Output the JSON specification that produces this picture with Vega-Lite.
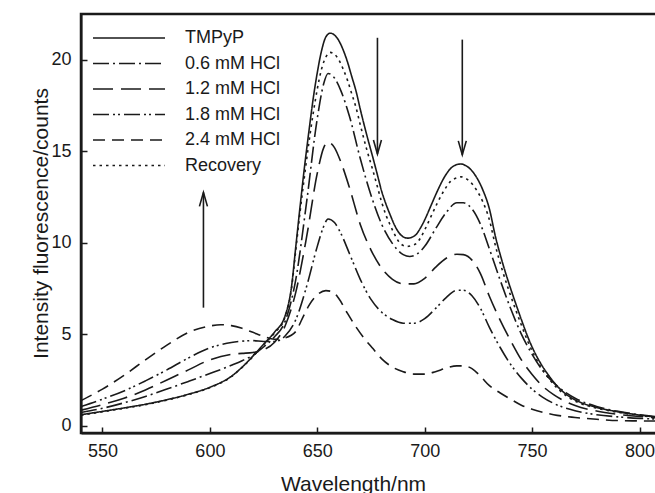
{
  "$schema": "https://vega.github.io/schema/vega-lite/v6.json",
  "width": 580,
  "height": 419,
  "autosize": {"type": "none"},
  "padding": {"left": 81, "top": 14, "right": 0, "bottom": 60},
  "background": "white",
  "config": {
    "view": {"stroke": "#1a1a1a", "strokeWidth": 2.5},
    "font": "Liberation Sans"
  },
  "datasets": {
    "spectra": [
      {"series":"TMPyP","nm":540,"val":0.6},{"series":"TMPyP","nm":550,"val":0.78},{"series":"TMPyP","nm":560,"val":0.97},{"series":"TMPyP","nm":570,"val":1.17},{"series":"TMPyP","nm":580,"val":1.42},{"series":"TMPyP","nm":590,"val":1.72},{"series":"TMPyP","nm":600,"val":2.1},{"series":"TMPyP","nm":610,"val":2.7},{"series":"TMPyP","nm":615,"val":3.2},{"series":"TMPyP","nm":620,"val":3.8},{"series":"TMPyP","nm":625,"val":4.45},{"series":"TMPyP","nm":630,"val":5.1},{"series":"TMPyP","nm":635,"val":6.0},{"series":"TMPyP","nm":638,"val":7.6},{"series":"TMPyP","nm":640,"val":9.8},{"series":"TMPyP","nm":642,"val":12.0},{"series":"TMPyP","nm":644,"val":14.1},{"series":"TMPyP","nm":646,"val":16.0},{"series":"TMPyP","nm":648,"val":17.8},{"series":"TMPyP","nm":650,"val":19.3},{"series":"TMPyP","nm":652,"val":20.5},{"series":"TMPyP","nm":654,"val":21.25},{"series":"TMPyP","nm":656,"val":21.45},{"series":"TMPyP","nm":658,"val":21.35},{"series":"TMPyP","nm":660,"val":21.05},{"series":"TMPyP","nm":662,"val":20.55},{"series":"TMPyP","nm":664,"val":19.9},{"series":"TMPyP","nm":666,"val":19.1},{"series":"TMPyP","nm":668,"val":18.3},{"series":"TMPyP","nm":670,"val":17.3},{"series":"TMPyP","nm":673,"val":15.9},{"series":"TMPyP","nm":676,"val":14.6},{"series":"TMPyP","nm":678,"val":13.7},{"series":"TMPyP","nm":680,"val":12.8},{"series":"TMPyP","nm":682,"val":12.1},{"series":"TMPyP","nm":684,"val":11.5},{"series":"TMPyP","nm":686,"val":10.95},{"series":"TMPyP","nm":688,"val":10.55},{"series":"TMPyP","nm":690,"val":10.32},{"series":"TMPyP","nm":692,"val":10.25},{"series":"TMPyP","nm":694,"val":10.3},{"series":"TMPyP","nm":696,"val":10.45},{"series":"TMPyP","nm":698,"val":10.8},{"series":"TMPyP","nm":700,"val":11.25},{"series":"TMPyP","nm":703,"val":12.05},{"series":"TMPyP","nm":706,"val":12.85},{"series":"TMPyP","nm":709,"val":13.55},{"series":"TMPyP","nm":712,"val":14.05},{"series":"TMPyP","nm":715,"val":14.27},{"series":"TMPyP","nm":717,"val":14.3},{"series":"TMPyP","nm":719,"val":14.22},{"series":"TMPyP","nm":721,"val":14.05},{"series":"TMPyP","nm":724,"val":13.6},{"series":"TMPyP","nm":727,"val":12.9},{"series":"TMPyP","nm":730,"val":11.9},{"series":"TMPyP","nm":733,"val":10.3},{"series":"TMPyP","nm":736,"val":9.0},{"series":"TMPyP","nm":739,"val":7.85},{"series":"TMPyP","nm":742,"val":6.8},{"series":"TMPyP","nm":745,"val":5.8},{"series":"TMPyP","nm":748,"val":4.85},{"series":"TMPyP","nm":751,"val":4.05},{"series":"TMPyP","nm":754,"val":3.4},{"series":"TMPyP","nm":758,"val":2.7},{"series":"TMPyP","nm":762,"val":2.12},{"series":"TMPyP","nm":767,"val":1.62},{"series":"TMPyP","nm":772,"val":1.3},{"series":"TMPyP","nm":780,"val":1.0},{"series":"TMPyP","nm":790,"val":0.76},{"series":"TMPyP","nm":800,"val":0.58},{"series":"TMPyP","nm":810,"val":0.44},

      {"series":"0.6 mM HCl","nm":540,"val":0.72},{"series":"0.6 mM HCl","nm":550,"val":0.95},{"series":"0.6 mM HCl","nm":560,"val":1.25},{"series":"0.6 mM HCl","nm":570,"val":1.6},{"series":"0.6 mM HCl","nm":580,"val":2.0},{"series":"0.6 mM HCl","nm":590,"val":2.42},{"series":"0.6 mM HCl","nm":600,"val":2.85},{"series":"0.6 mM HCl","nm":610,"val":3.3},{"series":"0.6 mM HCl","nm":615,"val":3.55},{"series":"0.6 mM HCl","nm":620,"val":3.85},{"series":"0.6 mM HCl","nm":625,"val":4.3},{"series":"0.6 mM HCl","nm":630,"val":4.85},{"series":"0.6 mM HCl","nm":635,"val":5.7},{"series":"0.6 mM HCl","nm":640,"val":8.0},{"series":"0.6 mM HCl","nm":645,"val":12.2},{"series":"0.6 mM HCl","nm":650,"val":16.8},{"series":"0.6 mM HCl","nm":653,"val":18.7},{"series":"0.6 mM HCl","nm":655,"val":19.25},{"series":"0.6 mM HCl","nm":658,"val":19.0},{"series":"0.6 mM HCl","nm":661,"val":18.3},{"series":"0.6 mM HCl","nm":665,"val":16.9},{"series":"0.6 mM HCl","nm":670,"val":14.6},{"series":"0.6 mM HCl","nm":675,"val":12.6},{"series":"0.6 mM HCl","nm":680,"val":11.0},{"series":"0.6 mM HCl","nm":685,"val":9.95},{"series":"0.6 mM HCl","nm":690,"val":9.35},{"series":"0.6 mM HCl","nm":693,"val":9.25},{"series":"0.6 mM HCl","nm":696,"val":9.35},{"series":"0.6 mM HCl","nm":700,"val":9.8},{"series":"0.6 mM HCl","nm":705,"val":10.75},{"series":"0.6 mM HCl","nm":710,"val":11.65},{"series":"0.6 mM HCl","nm":715,"val":12.18},{"series":"0.6 mM HCl","nm":718,"val":12.18},{"series":"0.6 mM HCl","nm":722,"val":11.85},{"series":"0.6 mM HCl","nm":726,"val":11.0},{"series":"0.6 mM HCl","nm":730,"val":9.7},{"series":"0.6 mM HCl","nm":735,"val":8.0},{"series":"0.6 mM HCl","nm":740,"val":6.4},{"series":"0.6 mM HCl","nm":745,"val":5.0},{"series":"0.6 mM HCl","nm":750,"val":3.9},{"series":"0.6 mM HCl","nm":755,"val":3.0},{"series":"0.6 mM HCl","nm":760,"val":2.35},{"series":"0.6 mM HCl","nm":770,"val":1.5},{"series":"0.6 mM HCl","nm":780,"val":1.05},{"series":"0.6 mM HCl","nm":790,"val":0.78},{"series":"0.6 mM HCl","nm":800,"val":0.6},{"series":"0.6 mM HCl","nm":810,"val":0.47},

      {"series":"1.2 mM HCl","nm":540,"val":0.85},{"series":"1.2 mM HCl","nm":550,"val":1.15},{"series":"1.2 mM HCl","nm":560,"val":1.5},{"series":"1.2 mM HCl","nm":570,"val":1.95},{"series":"1.2 mM HCl","nm":580,"val":2.5},{"series":"1.2 mM HCl","nm":590,"val":3.05},{"series":"1.2 mM HCl","nm":600,"val":3.6},{"series":"1.2 mM HCl","nm":610,"val":3.9},{"series":"1.2 mM HCl","nm":615,"val":3.95},{"series":"1.2 mM HCl","nm":620,"val":4.0},{"series":"1.2 mM HCl","nm":625,"val":4.15},{"series":"1.2 mM HCl","nm":630,"val":4.55},{"series":"1.2 mM HCl","nm":635,"val":5.45},{"series":"1.2 mM HCl","nm":640,"val":7.3},{"series":"1.2 mM HCl","nm":645,"val":10.3},{"series":"1.2 mM HCl","nm":650,"val":13.8},{"series":"1.2 mM HCl","nm":653,"val":15.2},{"series":"1.2 mM HCl","nm":655,"val":15.5},{"series":"1.2 mM HCl","nm":658,"val":15.2},{"series":"1.2 mM HCl","nm":661,"val":14.4},{"series":"1.2 mM HCl","nm":665,"val":13.0},{"series":"1.2 mM HCl","nm":670,"val":11.0},{"series":"1.2 mM HCl","nm":675,"val":9.6},{"series":"1.2 mM HCl","nm":680,"val":8.6},{"series":"1.2 mM HCl","nm":685,"val":8.0},{"series":"1.2 mM HCl","nm":690,"val":7.75},{"series":"1.2 mM HCl","nm":695,"val":7.75},{"series":"1.2 mM HCl","nm":700,"val":8.05},{"series":"1.2 mM HCl","nm":705,"val":8.65},{"series":"1.2 mM HCl","nm":710,"val":9.15},{"series":"1.2 mM HCl","nm":715,"val":9.37},{"series":"1.2 mM HCl","nm":718,"val":9.35},{"series":"1.2 mM HCl","nm":722,"val":9.05},{"series":"1.2 mM HCl","nm":726,"val":8.3},{"series":"1.2 mM HCl","nm":730,"val":7.1},{"series":"1.2 mM HCl","nm":735,"val":5.8},{"series":"1.2 mM HCl","nm":740,"val":4.65},{"series":"1.2 mM HCl","nm":745,"val":3.6},{"series":"1.2 mM HCl","nm":750,"val":2.8},{"series":"1.2 mM HCl","nm":755,"val":2.15},{"series":"1.2 mM HCl","nm":760,"val":1.7},{"series":"1.2 mM HCl","nm":770,"val":1.1},{"series":"1.2 mM HCl","nm":780,"val":0.8},{"series":"1.2 mM HCl","nm":790,"val":0.62},{"series":"1.2 mM HCl","nm":800,"val":0.5},{"series":"1.2 mM HCl","nm":810,"val":0.42},

      {"series":"1.8 mM HCl","nm":540,"val":1.05},{"series":"1.8 mM HCl","nm":550,"val":1.45},{"series":"1.8 mM HCl","nm":560,"val":1.9},{"series":"1.8 mM HCl","nm":570,"val":2.45},{"series":"1.8 mM HCl","nm":580,"val":3.05},{"series":"1.8 mM HCl","nm":590,"val":3.7},{"series":"1.8 mM HCl","nm":600,"val":4.25},{"series":"1.8 mM HCl","nm":610,"val":4.55},{"series":"1.8 mM HCl","nm":615,"val":4.62},{"series":"1.8 mM HCl","nm":620,"val":4.65},{"series":"1.8 mM HCl","nm":625,"val":4.6},{"series":"1.8 mM HCl","nm":630,"val":4.6},{"series":"1.8 mM HCl","nm":635,"val":4.9},{"series":"1.8 mM HCl","nm":640,"val":5.8},{"series":"1.8 mM HCl","nm":645,"val":7.6},{"series":"1.8 mM HCl","nm":650,"val":9.8},{"series":"1.8 mM HCl","nm":653,"val":10.9},{"series":"1.8 mM HCl","nm":655,"val":11.3},{"series":"1.8 mM HCl","nm":658,"val":11.1},{"series":"1.8 mM HCl","nm":661,"val":10.5},{"series":"1.8 mM HCl","nm":665,"val":9.4},{"series":"1.8 mM HCl","nm":670,"val":8.0},{"series":"1.8 mM HCl","nm":675,"val":6.9},{"series":"1.8 mM HCl","nm":680,"val":6.2},{"series":"1.8 mM HCl","nm":685,"val":5.8},{"series":"1.8 mM HCl","nm":690,"val":5.6},{"series":"1.8 mM HCl","nm":695,"val":5.6},{"series":"1.8 mM HCl","nm":700,"val":5.85},{"series":"1.8 mM HCl","nm":705,"val":6.4},{"series":"1.8 mM HCl","nm":710,"val":7.0},{"series":"1.8 mM HCl","nm":715,"val":7.4},{"series":"1.8 mM HCl","nm":718,"val":7.4},{"series":"1.8 mM HCl","nm":722,"val":7.1},{"series":"1.8 mM HCl","nm":726,"val":6.4},{"series":"1.8 mM HCl","nm":730,"val":5.4},{"series":"1.8 mM HCl","nm":735,"val":4.3},{"series":"1.8 mM HCl","nm":740,"val":3.35},{"series":"1.8 mM HCl","nm":745,"val":2.6},{"series":"1.8 mM HCl","nm":750,"val":2.0},{"series":"1.8 mM HCl","nm":755,"val":1.55},{"series":"1.8 mM HCl","nm":760,"val":1.22},{"series":"1.8 mM HCl","nm":770,"val":0.82},{"series":"1.8 mM HCl","nm":780,"val":0.6},{"series":"1.8 mM HCl","nm":790,"val":0.48},{"series":"1.8 mM HCl","nm":800,"val":0.4},{"series":"1.8 mM HCl","nm":810,"val":0.36},

      {"series":"2.4 mM HCl","nm":540,"val":1.37},{"series":"2.4 mM HCl","nm":550,"val":2.0},{"series":"2.4 mM HCl","nm":560,"val":2.75},{"series":"2.4 mM HCl","nm":570,"val":3.6},{"series":"2.4 mM HCl","nm":580,"val":4.4},{"series":"2.4 mM HCl","nm":590,"val":5.1},{"series":"2.4 mM HCl","nm":600,"val":5.45},{"series":"2.4 mM HCl","nm":605,"val":5.52},{"series":"2.4 mM HCl","nm":610,"val":5.47},{"series":"2.4 mM HCl","nm":615,"val":5.32},{"series":"2.4 mM HCl","nm":620,"val":5.1},{"series":"2.4 mM HCl","nm":625,"val":4.88},{"series":"2.4 mM HCl","nm":630,"val":4.72},{"series":"2.4 mM HCl","nm":635,"val":4.8},{"series":"2.4 mM HCl","nm":640,"val":5.15},{"series":"2.4 mM HCl","nm":643,"val":5.85},{"series":"2.4 mM HCl","nm":646,"val":6.55},{"series":"2.4 mM HCl","nm":650,"val":7.15},{"series":"2.4 mM HCl","nm":654,"val":7.38},{"series":"2.4 mM HCl","nm":657,"val":7.32},{"series":"2.4 mM HCl","nm":660,"val":6.95},{"series":"2.4 mM HCl","nm":664,"val":6.15},{"series":"2.4 mM HCl","nm":668,"val":5.4},{"series":"2.4 mM HCl","nm":672,"val":4.75},{"series":"2.4 mM HCl","nm":676,"val":4.2},{"series":"2.4 mM HCl","nm":680,"val":3.65},{"series":"2.4 mM HCl","nm":685,"val":3.2},{"series":"2.4 mM HCl","nm":690,"val":2.95},{"series":"2.4 mM HCl","nm":695,"val":2.82},{"series":"2.4 mM HCl","nm":700,"val":2.82},{"series":"2.4 mM HCl","nm":705,"val":2.95},{"series":"2.4 mM HCl","nm":710,"val":3.15},{"series":"2.4 mM HCl","nm":715,"val":3.27},{"series":"2.4 mM HCl","nm":718,"val":3.27},{"series":"2.4 mM HCl","nm":722,"val":3.12},{"series":"2.4 mM HCl","nm":726,"val":2.7},{"series":"2.4 mM HCl","nm":730,"val":2.2},{"series":"2.4 mM HCl","nm":735,"val":1.8},{"series":"2.4 mM HCl","nm":740,"val":1.45},{"series":"2.4 mM HCl","nm":745,"val":1.12},{"series":"2.4 mM HCl","nm":750,"val":0.9},{"series":"2.4 mM HCl","nm":755,"val":0.73},{"series":"2.4 mM HCl","nm":760,"val":0.6},{"series":"2.4 mM HCl","nm":770,"val":0.45},{"series":"2.4 mM HCl","nm":780,"val":0.35},{"series":"2.4 mM HCl","nm":790,"val":0.28},{"series":"2.4 mM HCl","nm":800,"val":0.26},{"series":"2.4 mM HCl","nm":810,"val":0.25},

      {"series":"Recovery","nm":540,"val":0.57},{"series":"Recovery","nm":550,"val":0.76},{"series":"Recovery","nm":560,"val":0.95},{"series":"Recovery","nm":570,"val":1.15},{"series":"Recovery","nm":580,"val":1.4},{"series":"Recovery","nm":590,"val":1.7},{"series":"Recovery","nm":600,"val":2.08},{"series":"Recovery","nm":610,"val":2.68},{"series":"Recovery","nm":615,"val":3.18},{"series":"Recovery","nm":620,"val":3.77},{"series":"Recovery","nm":625,"val":4.42},{"series":"Recovery","nm":630,"val":5.05},{"series":"Recovery","nm":635,"val":5.95},{"series":"Recovery","nm":638,"val":7.5},{"series":"Recovery","nm":640,"val":9.6},{"series":"Recovery","nm":642,"val":11.7},{"series":"Recovery","nm":644,"val":13.6},{"series":"Recovery","nm":646,"val":15.4},{"series":"Recovery","nm":648,"val":17.0},{"series":"Recovery","nm":650,"val":18.4},{"series":"Recovery","nm":652,"val":19.5},{"series":"Recovery","nm":654,"val":20.15},{"series":"Recovery","nm":656,"val":20.4},{"series":"Recovery","nm":658,"val":20.3},{"series":"Recovery","nm":660,"val":20.0},{"series":"Recovery","nm":662,"val":19.5},{"series":"Recovery","nm":664,"val":18.9},{"series":"Recovery","nm":666,"val":18.15},{"series":"Recovery","nm":668,"val":17.4},{"series":"Recovery","nm":670,"val":16.45},{"series":"Recovery","nm":673,"val":15.1},{"series":"Recovery","nm":676,"val":13.9},{"series":"Recovery","nm":678,"val":13.05},{"series":"Recovery","nm":680,"val":12.2},{"series":"Recovery","nm":682,"val":11.5},{"series":"Recovery","nm":684,"val":10.95},{"series":"Recovery","nm":686,"val":10.45},{"series":"Recovery","nm":688,"val":10.05},{"series":"Recovery","nm":690,"val":9.85},{"series":"Recovery","nm":692,"val":9.8},{"series":"Recovery","nm":694,"val":9.85},{"series":"Recovery","nm":696,"val":9.95},{"series":"Recovery","nm":698,"val":10.25},{"series":"Recovery","nm":700,"val":10.7},{"series":"Recovery","nm":703,"val":11.45},{"series":"Recovery","nm":706,"val":12.2},{"series":"Recovery","nm":709,"val":12.85},{"series":"Recovery","nm":712,"val":13.35},{"series":"Recovery","nm":715,"val":13.55},{"series":"Recovery","nm":717,"val":13.6},{"series":"Recovery","nm":719,"val":13.52},{"series":"Recovery","nm":721,"val":13.35},{"series":"Recovery","nm":724,"val":12.9},{"series":"Recovery","nm":727,"val":12.25},{"series":"Recovery","nm":730,"val":11.3},{"series":"Recovery","nm":733,"val":9.8},{"series":"Recovery","nm":736,"val":8.55},{"series":"Recovery","nm":739,"val":7.45},{"series":"Recovery","nm":742,"val":6.45},{"series":"Recovery","nm":745,"val":5.5},{"series":"Recovery","nm":748,"val":4.6},{"series":"Recovery","nm":751,"val":3.85},{"series":"Recovery","nm":754,"val":3.22},{"series":"Recovery","nm":758,"val":2.55},{"series":"Recovery","nm":762,"val":2.02},{"series":"Recovery","nm":767,"val":1.55},{"series":"Recovery","nm":772,"val":1.24},{"series":"Recovery","nm":780,"val":0.96},{"series":"Recovery","nm":790,"val":0.73},{"series":"Recovery","nm":800,"val":0.56},{"series":"Recovery","nm":810,"val":0.43}
    ],
    "arrows": [
      {"nm": 597, "start": 6.45, "tip": 12.75, "dir": "up"},
      {"nm": 678, "start": 21.2, "tip": 14.85, "dir": "down"},
      {"nm": 717.5, "start": 21.1, "tip": 14.8, "dir": "down"}
    ]
  },
  "layer": [
    {
      "data": {"name": "spectra"},
      "mark": {"type": "line", "interpolate": "monotone", "strokeWidth": 1.6, "color": "#1a1a1a", "clip": true},
      "encoding": {
        "x": {
          "field": "nm", "type": "quantitative",
          "scale": {"domain": [540, 810], "nice": false, "zero": false},
          "axis": {
            "values": [550, 600, 650, 700, 750, 800],
            "grid": false, "tickSize": -6, "tickWidth": 1.5, "tickColor": "#1a1a1a",
            "domainColor": "#1a1a1a", "domainWidth": 2,
            "labelFontSize": 18, "labelColor": "#1a1a1a", "labelPadding": 15, "labelFlush": false,
            "title": "Wavelength/nm", "titleFontSize": 21, "titleFontWeight": "normal", "titleColor": "#1a1a1a",
            "titleX": 272, "titleY": 57, "titleBaseline": "alphabetic"
          }
        },
        "y": {
          "field": "val", "type": "quantitative",
          "scale": {"domain": [-0.4, 22.5], "nice": false, "zero": false},
          "axis": {
            "values": [0, 5, 10, 15, 20],
            "grid": false, "tickSize": -6, "tickWidth": 1.5, "tickColor": "#1a1a1a",
            "domainColor": "#1a1a1a", "domainWidth": 2,
            "labelFontSize": 18, "labelColor": "#1a1a1a", "labelPadding": 16,
            "title": "Intensity fluorescence/counts", "titleFontSize": 21, "titleFontWeight": "normal", "titleColor": "#1a1a1a",
            "titleX": -34, "titleY": 209, "titleBaseline": "alphabetic", "titleAngle": 270
          }
        },
        "strokeDash": {
          "field": "series", "type": "nominal",
          "scale": {
            "domain": ["TMPyP", "0.6 mM HCl", "1.2 mM HCl", "1.8 mM HCl", "2.4 mM HCl", "Recovery"],
            "range": [[1, 0], [16, 4, 2, 4], [20, 8], [16, 4, 2, 3, 2, 4], [12, 7], [2.5, 4]]
          },
          "legend": {
            "orient": "none", "legendX": 38, "legendY": 14, "title": null,
            "symbolType": "M-4,0H4", "symbolSize": 324, "symbolStrokeWidth": 1.6, "symbolStrokeColor": "#1a1a1a",
            "labelFontSize": 18, "labelColor": "#1a1a1a", "labelOffset": 46, "rowPadding": 6.5, "padding": 0
          }
        }
      }
    },
    {
      "data": {"name": "arrows"},
      "mark": {"type": "rule", "strokeWidth": 1.6, "color": "#1a1a1a"},
      "encoding": {
        "x": {"field": "nm", "type": "quantitative"},
        "y": {"field": "start", "type": "quantitative"},
        "y2": {"field": "tip"}
      }
    },
    {
      "data": {"name": "arrows"},
      "mark": {"type": "point", "filled": false, "strokeWidth": 1.6, "color": "#1a1a1a", "size": 256, "opacity": 1},
      "encoding": {
        "x": {"field": "nm", "type": "quantitative"},
        "y": {"field": "tip", "type": "quantitative"},
        "shape": {
          "field": "dir", "type": "nominal",
          "scale": {"domain": ["up", "down"], "range": ["M-0.5,1.75L0,0L0.5,1.75", "M-0.5,-1.75L0,0L0.5,-1.75"]},
          "legend": null
        }
      }
    }
  ]
}
